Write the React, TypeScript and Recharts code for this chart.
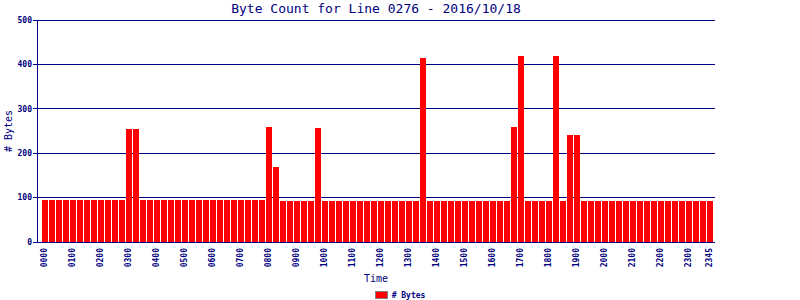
import React from 'react';
import { BarChart, Bar, XAxis, YAxis, CartesianGrid, Legend } from 'recharts';

const times = [
  '0000','0015','0030','0045','0100','0115','0130','0145',
  '0200','0215','0230','0245','0300','0315','0330','0345',
  '0400','0415','0430','0445','0500','0515','0530','0545',
  '0600','0615','0630','0645','0700','0715','0730','0745',
  '0800','0815','0830','0845','0900','0915','0930','0945',
  '1000','1015','1030','1045','1100','1115','1130','1145',
  '1200','1215','1230','1245','1300','1315','1330','1345',
  '1400','1415','1430','1445','1500','1515','1530','1545',
  '1600','1615','1630','1645','1700','1715','1730','1745',
  '1800','1815','1830','1845','1900','1915','1930','1945',
  '2000','2015','2030','2045','2100','2115','2130','2145',
  '2200','2215','2230','2245','2300','2315','2330','2345',
];

const bytes = [
  95, 95, 95, 95, 95, 95, 95, 95,
  95, 95, 95, 95, 255, 255, 95, 95,
  95, 95, 95, 95, 95, 95, 95, 95,
  95, 95, 95, 95, 95, 95, 95, 95,
  259, 168, 92, 92, 92, 92, 92, 257,
  92, 92, 92, 92, 92, 92, 92, 92,
  92, 92, 92, 92, 92, 92, 414, 92,
  92, 92, 92, 92, 92, 92, 92, 92,
  92, 92, 92, 259, 419, 92, 92, 92,
  92, 419, 92, 241, 241, 92, 92, 92,
  92, 92, 92, 92, 92, 92, 92, 92,
  92, 92, 92, 92, 92, 92, 92, 92,
];

const xTickLabels = [
  '0000','0100','0200','0300','0400','0500','0600','0700','0800','0900',
  '1000','1100','1200','1300','1400','1500','1600','1700','1800','1900',
  '2000','2100','2200','2300','2345',
];

const yTicks = [0, 100, 200, 300, 400, 500];

const data = times.map((t, i) => ({ time: t, bytes: bytes[i] }));

const NAVY = '#000080';
const MONO = '"DejaVu Sans Mono", monospace';

function XTick(props: any) {
  const { x, y, payload } = props;
  return (
    <text
      x={x}
      y={y}
      transform={`rotate(-90 ${x} ${y})`}
      textAnchor="end"
      dy="0.35em"
      fontFamily={MONO}
      fontSize={8}
      fontWeight="bold"
      fill={NAVY}
    >
      {payload.value}
    </text>
  );
}

function YTick(props: any) {
  const { x, y, payload } = props;
  return (
    <text
      x={x}
      y={y}
      textAnchor="end"
      dy="0.35em"
      fontFamily={MONO}
      fontSize={8}
      fontWeight="bold"
      fill={NAVY}
    >
      {payload.value}
    </text>
  );
}

function LegendContent() {
  return (
    <div
      style={{
        display: 'flex',
        justifyContent: 'center',
        alignItems: 'center',
        height: 12,
        fontFamily: MONO,
        fontSize: 8,
        fontWeight: 'bold',
        color: NAVY,
      }}
    >
      <span
        style={{
          display: 'inline-block',
          width: 11,
          height: 6,
          background: '#FF0000',
          border: '1px solid #808080',
          marginRight: 4,
        }}
      />
      <span>{'# Bytes'}</span>
    </div>
  );
}

export default function App() {
  return (
    <div style={{ position: 'absolute', left: 0, top: 0, width: 800, height: 300, background: '#fff' }}>
      <div
        style={{
          position: 'absolute',
          left: 37,
          top: 1,
          width: 678,
          textAlign: 'center',
          fontFamily: MONO,
          fontSize: 13,
          lineHeight: '15px',
          color: NAVY,
          zIndex: 2,
        }}
      >
        Byte Count for Line 0276 - 2016/10/18
      </div>
      <BarChart
        width={800}
        height={300}
        data={data}
        margin={{ top: 20, right: 85, bottom: 28, left: 0 }}
      >
        <CartesianGrid vertical={false} stroke={NAVY} strokeWidth={1} shapeRendering="crispEdges" />
        <XAxis
          dataKey="time"
          type="category"
          ticks={xTickLabels}
          interval={0}
          height={30}
          padding={{ left: 3.5, right: 2.5 }}
          axisLine={{ stroke: NAVY, shapeRendering: 'crispEdges' }}
          tickLine={false}
          tickSize={6}
          tickMargin={0}
          tick={<XTick />}
          label={{
            content: (p: any) => {
              const vb = p.viewBox;
              return (
                <text
                  x={vb.x + vb.width / 2}
                  y={278}
                  dy="0.35em"
                  textAnchor="middle"
                  fontFamily={MONO}
                  fontSize={10}
                  fill={NAVY}
                >
                  Time
                </text>
              );
            },
          }}
        />
        <YAxis
          domain={[0, 500]}
          ticks={yTicks}
          width={37}
          axisLine={{ stroke: NAVY, shapeRendering: 'crispEdges' }}
          tickLine={{ stroke: NAVY, shapeRendering: 'crispEdges' }}
          tickSize={4}
          tickMargin={1}
          tick={<YTick />}
          label={{
            content: (p: any) => {
              const vb = p.viewBox;
              const cx = 8;
              const cy = vb.y + vb.height / 2;
              return (
                <text
                  x={cx}
                  y={cy}
                  dy="0.35em"
                  transform={`rotate(-90 ${cx} ${cy})`}
                  textAnchor="middle"
                  fontFamily={MONO}
                  fontSize={10}
                  fill={NAVY}
                >
                  # Bytes
                </text>
              );
            },
          }}
        />
        <YAxis
          yAxisId="right"
          orientation="right"
          domain={[0, 500]}
          width={0}
          tick={false}
          tickLine={false}
          axisLine={{ stroke: NAVY, shapeRendering: 'crispEdges' }}
        />
        <Bar
          dataKey="bytes"
          fill="#FF0000"
          barSize={6}
          shapeRendering="crispEdges"
          isAnimationActive={false}
        />
        <Legend
          layout="horizontal"
          verticalAlign="middle"
          align="center"
          wrapperStyle={{ top: 289, left: 0, width: 800 }}
          content={<LegendContent />}
        />
      </BarChart>
    </div>
  );
}
